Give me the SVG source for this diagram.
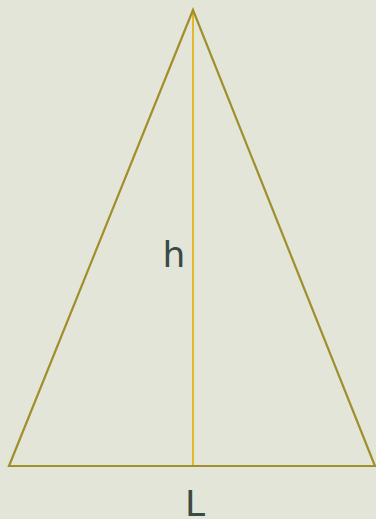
<svg xmlns="http://www.w3.org/2000/svg" width="376" height="519" viewBox="0 0 376 519">
<style>
.lbl{font-family:"DejaVu Sans","Open Sans",sans-serif;font-size:36px;fill:#3b4a44;text-anchor:middle}
</style>
<rect width="376" height="519" fill="#e3e5d9"/>
<g id="connectors">
<line x1="193" y1="12" x2="193" y2="466" stroke="#e0b92c" stroke-width="2"/>
</g>
<g id="triangle">
<polygon points="193,10 9,466 375,466" fill="none" stroke="#a08f2a" stroke-width="2.2" stroke-linejoin="miter"/>
</g>
<g id="label-h"><text class="lbl" x="174" y="267">h</text></g>
<g id="label-L"><text class="lbl" x="195" y="516">L</text></g>
</svg>
